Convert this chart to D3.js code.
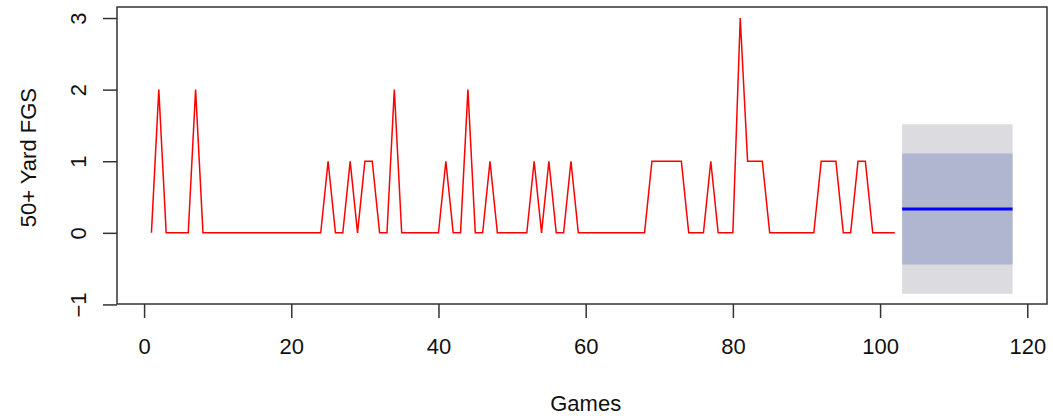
<!DOCTYPE html>
<html>
<head>
<meta charset="utf-8">
<script src="https://cdn.jsdelivr.net/npm/d3@7"></script>
<style>
  body { margin: 0; background: #fff; }
  text { font-family: "Liberation Sans", Arial, sans-serif; fill: #111; }
</style>
</head>
<body>
<svg></svg>
<script>
// 50+ yard field goals per game (games 1..102)
const fgs = [0,2,0,0,0,0,2,0,0,0,0,0,0,0,0,0,0,0,0,0,0,0,0,0,1,0,0,1,0,1,
             1,0,0,2,0,0,0,0,0,0,1,0,0,2,0,0,1,0,0,0,0,0,1,0,1,0,0,1,0,0,
             0,0,0,0,0,0,0,0,1,1,1,1,1,0,0,0,1,0,0,0,3,1,1,1,0,0,0,0,0,0,
             0,1,1,1,0,0,1,1,0,0,0,0];
const games = fgs.map((d, i) => i + 1);

// mean forecast, games 103..118
const fcGames = [103,104,105,106,107,108,109,110,111,112,113,114,115,116,117,118];
const fcMean  = [0.333,0.333,0.333,0.333,0.333,0.333,0.333,0.333,0.333,0.333,0.333,0.333,0.333,0.333,0.333,0.333];
const fcLo80  = [-0.441,-0.441,-0.441,-0.441,-0.441,-0.441,-0.441,-0.441,-0.441,-0.441,-0.441,-0.441,-0.441,-0.441,-0.441,-0.441];
const fcHi80  = [1.107,1.107,1.107,1.107,1.107,1.107,1.107,1.107,1.107,1.107,1.107,1.107,1.107,1.107,1.107,1.107];
const fcLo95  = [-0.850,-0.850,-0.850,-0.850,-0.850,-0.850,-0.850,-0.850,-0.850,-0.850,-0.850,-0.850,-0.850,-0.850,-0.850,-0.850];
const fcHi95  = [1.516,1.516,1.516,1.516,1.516,1.516,1.516,1.516,1.516,1.516,1.516,1.516,1.516,1.516,1.516,1.516];

const xTicks = [0,20,40,60,80,100,120];
const yTicks = [-1,0,1,2,3];

const w = 1053, h = 419;
const margin = { top: 7, bottom: 115, left: 117, right: 6 };

const svg = d3.select("svg").attr("width", w).attr("height", h);

let xScale = d3.scaleLinear()
    .domain([-3.68, 122.68])
    .range([margin.left, w - margin.right]);
let yScale = d3.scaleLinear()
    .domain([-0.994, 3.154])
    .range([h - margin.bottom, margin.top]);

const fc = fcGames.map((g, i) => ({g: g, m: fcMean[i], lo80: fcLo80[i], hi80: fcHi80[i], lo95: fcLo95[i], hi95: fcHi95[i]}));

// 95% band then 80% band
svg.append("path")
   .datum(fc)
   .attr("fill", "#dbdbe0")
   .attr("d", d3.area().x(d => xScale(d.g)).y0(d => yScale(d.lo95)).y1(d => yScale(d.hi95)));
svg.append("path")
   .datum(fc)
   .attr("fill", "#b1b6d0")
   .attr("d", d3.area().x(d => xScale(d.g)).y0(d => yScale(d.lo80)).y1(d => yScale(d.hi80)));

// forecast mean
svg.append("path")
   .datum(fc)
   .attr("fill", "none")
   .attr("stroke", "#0000ff")
   .attr("stroke-width", 3)
   .attr("d", d3.line().x(d => xScale(d.g)).y(d => yScale(d.m)));

// observed series
svg.append("path")
   .datum(fgs)
   .attr("fill", "none")
   .attr("stroke", "#ff0000")
   .attr("stroke-width", 1.5)
   .attr("d", d3.line().x((d, i) => xScale(games[i])).y(d => yScale(d)));

// box
svg.append("rect")
   .attr("x", margin.left)
   .attr("y", margin.top)
   .attr("width", w - margin.left - margin.right)
   .attr("height", h - margin.top - margin.bottom)
   .attr("fill", "none")
   .attr("stroke", "#333")
   .attr("stroke-width", 1.5);

// x axis (R style: ticks below the box)
let xAxis = d3.axisBottom(xScale).tickValues(xTicks).tickSize(14).tickPadding(20);
let xAxisG = svg.append("g")
   .attr("transform", `translate(0,${h - margin.bottom})`)
   .call(xAxis);
xAxisG.select(".domain").remove();
xAxisG.selectAll("line").attr("stroke", "#333").attr("stroke-width", 1.5);
xAxisG.selectAll("text").attr("font-size", 22).attr("fill", "#111")
      .attr("font-family", "Liberation Sans, Arial, sans-serif");

// y axis with rotated labels
let yAxis = d3.axisLeft(yScale).tickValues(yTicks).tickSize(14).tickFormat(d3.format("d"));
let yAxisG = svg.append("g")
   .attr("transform", `translate(${margin.left},0)`)
   .call(yAxis);
yAxisG.select(".domain").remove();
yAxisG.selectAll("line").attr("stroke", "#333").attr("stroke-width", 1.5);
yAxisG.selectAll("text")
      .attr("font-size", 22).attr("fill", "#111")
      .attr("font-family", "Liberation Sans, Arial, sans-serif")
      .attr("x", null).attr("dy", null)
      .attr("text-anchor", "middle")
      .attr("transform", "translate(-31,0)rotate(-90)");

// axis titles
svg.append("text")
   .attr("x", (xScale(0) + xScale(120)) / 2)
   .attr("y", 411)
   .attr("text-anchor", "middle")
   .attr("font-size", 22)
   .text("Games");
svg.append("text")
   .attr("transform", `translate(36,${yScale(1.05)})rotate(-90)`)
   .attr("text-anchor", "middle")
   .attr("font-size", 22)
   .text("50+ Yard FGS");
</script>
</body>
</html>
